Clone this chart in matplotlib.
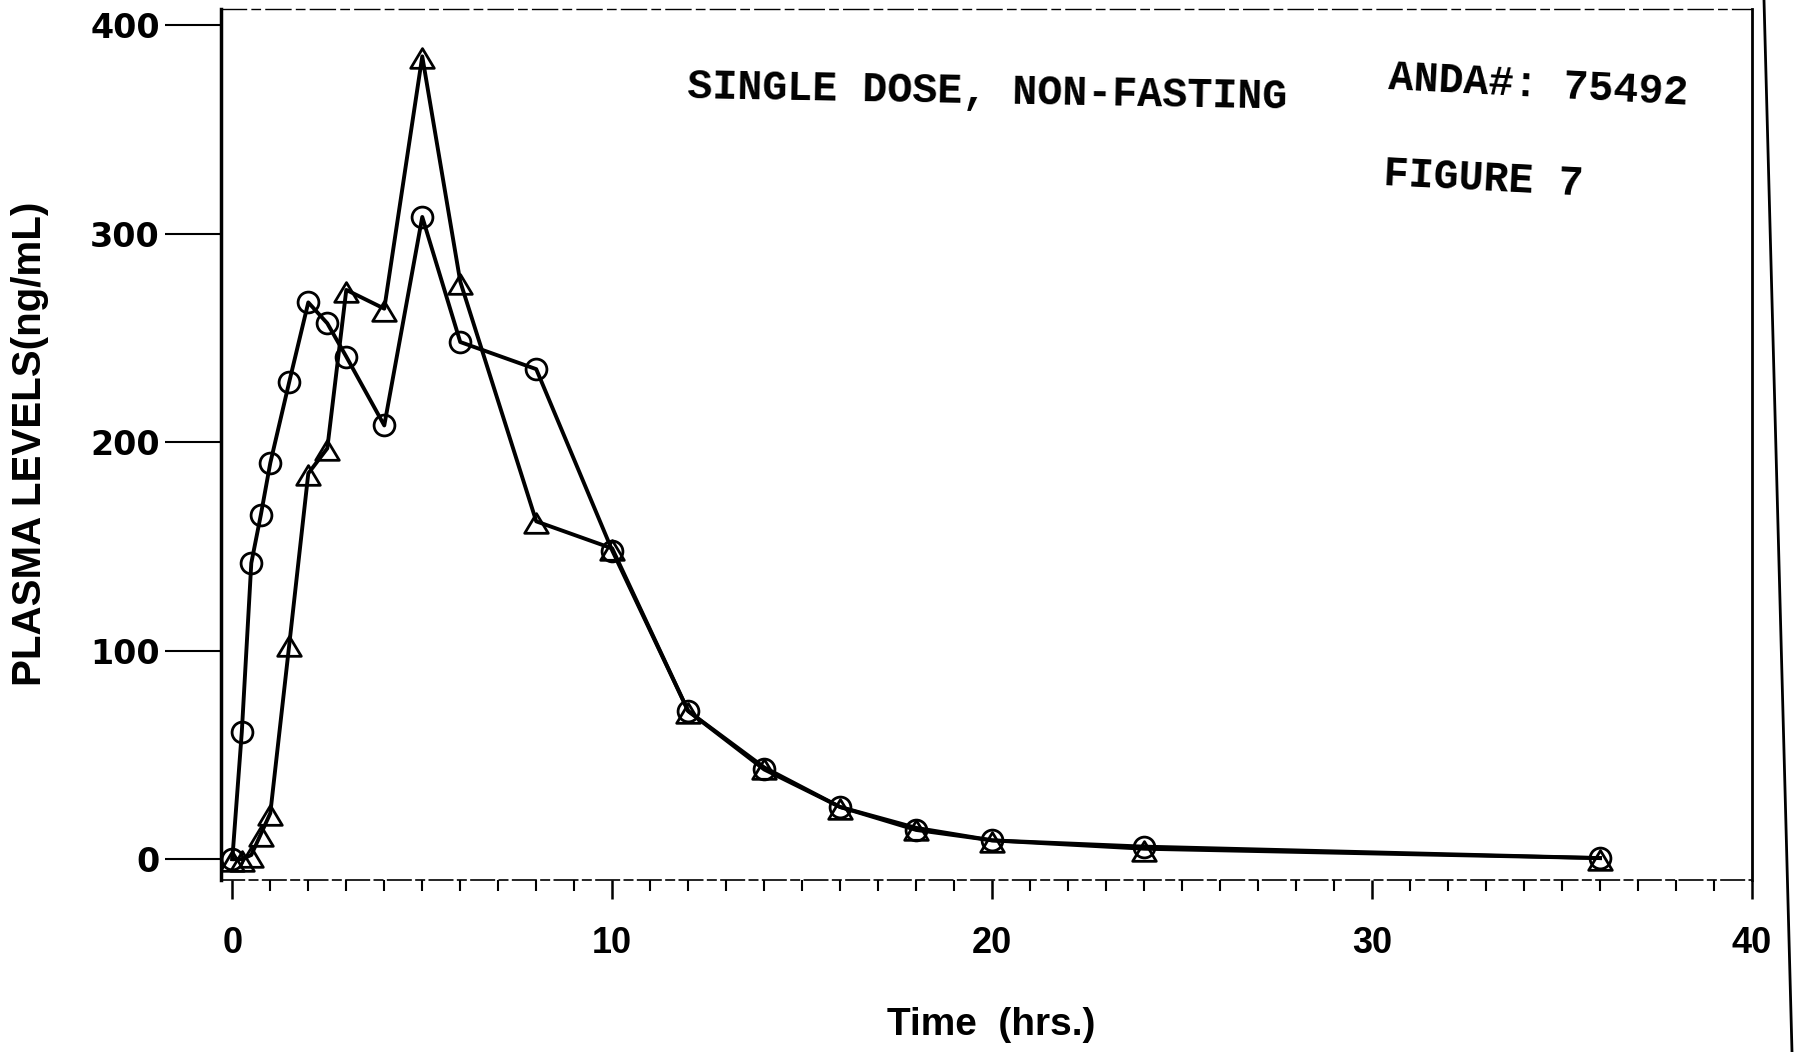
# Plasma level curves, single dose non-fasting (ANDA 75492, figure 7)

import matplotlib
matplotlib.use("Agg")
import matplotlib.pyplot as plt
from matplotlib.path import Path
from matplotlib.lines import Line2D

# sampling times (hrs)
times = [0, 0.25, 0.5, 0.75, 1, 1.5, 2, 2.5, 3, 4, 5, 6, 8, 10, 12, 14, 16, 18, 20, 24, 36]

# circle series (ng/mL)
circle_vals = [0, 61, 142, 165, 190, 229, 267, 257, 241, 208, 308, 248, 235, 148,
               71, 43, 25, 14, 9, 6, 0.5]

# triangle series (ng/mL)
triangle_vals = [0, 0, 2, 12, 22, 103, 185, 197, 273, 264, 385, 277, 162, 149,
                 71, 44, 25, 15, 9, 5, 0.5]

y_ticks = [0, 100, 200, 300, 400]
x_ticks = [0, 10, 20, 30, 40]

# open triangle, tip a little above the data point like the plotter drew it
tri_marker = Path([(0, 0.4), (-0.6, -0.6), (0.6, -0.6), (0, 0.4)],
                  [Path.MOVETO, Path.LINETO, Path.LINETO, Path.CLOSEPOLY])

fig = plt.figure(figsize=(17.96, 10.52), dpi=100)
ax = fig.add_axes([0.123, 0.1635, 0.8525, 0.8279])

ax.plot(times, circle_vals, color='black', lw=2.8, marker='o', ms=15,
        mfc='none', mec='black', mew=2.0)
ax.plot(times, triangle_vals, color='black', lw=2.8, marker=tri_marker, ms=17,
        mfc='none', mec='black', mew=2.0)

ax.set_xlim(-0.3, 40)
ax.set_ylim(-10, 407.7)

ax.set_yticks(y_ticks)
ax.set_xticks(x_ticks)
ax.set_xticks(range(0, 41), minor=True)
ax.set_yticklabels([str(v) for v in y_ticks], fontfamily='DejaVu Sans',
                   fontweight='bold', fontsize=24)
ax.set_xticklabels([str(v) for v in x_ticks], fontfamily='Liberation Sans',
                   fontweight='bold', fontsize=26)
ax.tick_params(axis='y', direction='out', length=40, width=1.5, pad=4)
ax.tick_params(axis='x', which='major', direction='out', length=14, width=1.8, pad=19)
ax.tick_params(axis='x', which='minor', direction='out', length=8, width=1.5)

ax.spines['left'].set_linewidth(2.5)
ax.spines['right'].set_linewidth(2.0)
ax.spines['bottom'].set_linewidth(1.2)
ax.spines['bottom'].set_linestyle((0, (14, 3, 5, 3)))
ax.spines['top'].set_linewidth(1.0)
ax.spines['top'].set_linestyle((0, (18, 4, 6, 4)))

# axis titles
fig.text(30 / 1796, 0.578, 'PLASMA LEVELS(ng/mL)', rotation=90, ha='center',
         va='center', fontfamily='Liberation Sans', fontweight='bold', fontsize=29)
fig.text(991 / 1796, 1 - 1025 / 1052, 'Time  (hrs.)', ha='center', va='center',
         fontfamily='Liberation Sans', fontweight='bold', fontsize=28)

# typed annotations
mono = dict(fontfamily='Liberation Mono', fontweight='bold', fontsize=30,
            ha='left', va='center', rotation_mode='anchor')
fig.text(687 / 1796, 1 - 87 / 1052, 'SINGLE DOSE, NON-FASTING', rotation=-1, **mono)
fig.text(1389 / 1796, 1 - 78 / 1052, 'ANDA#: 75492', rotation=-3, **mono)
fig.text(1384 / 1796, 1 - 174 / 1052, 'FIGURE 7', rotation=-3, **mono)

# page edge from the scan
fig.add_artist(Line2D([1764 / 1796, 1792 / 1796], [1, 0], color='black', lw=2.0,
                      transform=fig.transFigure))

fig.savefig('out.png', dpi=100, facecolor='white')
